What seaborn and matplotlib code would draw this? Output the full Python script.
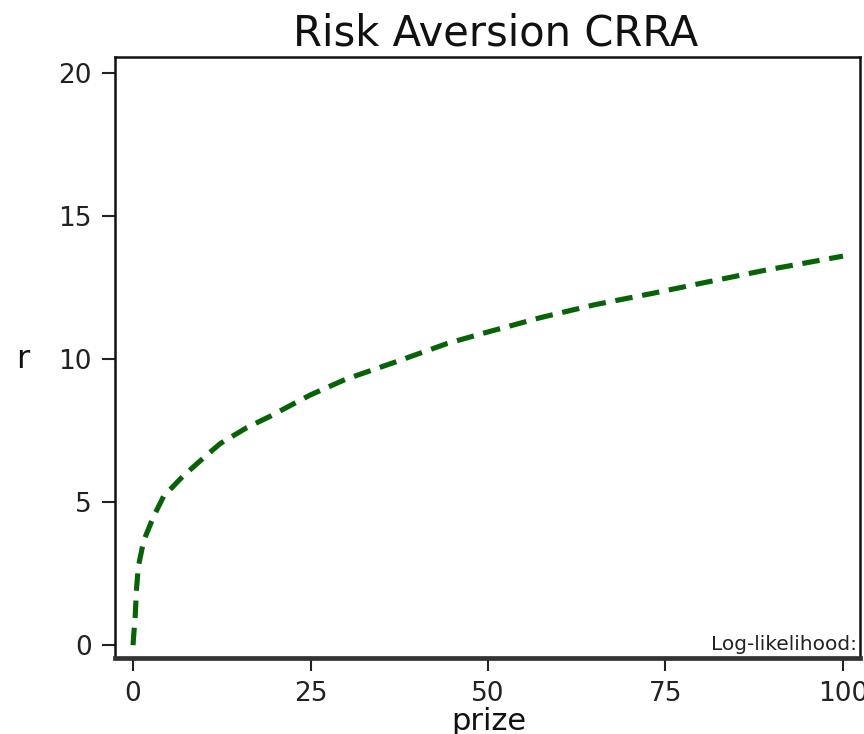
import matplotlib
matplotlib.use("Agg")
import matplotlib.pyplot as plt
import numpy as np
import pandas as pd
import seaborn as sns

# values
prize = [0, 0.05, 0.3, 0.5, 0.75, 1.5, 2.9, 4.3, 7, 10.4, 12.3, 16, 19.3, 22.7,
         25, 30, 36.4, 44.3, 50, 57.4, 65, 73.2, 80, 88.9, 100]
r_vals = [0, 0.2, 1.0, 2.0, 2.75, 3.65, 4.5, 5.2, 5.9, 6.65, 7.05, 7.6, 8.0, 8.45,
          8.75, 9.3, 9.85, 10.55, 10.95, 11.45, 11.9, 12.3, 12.65, 13.1, 13.6]
x_ticks = [0, 25, 50, 75, 100]
y_ticks = [0, 5, 10, 15, 20]

sns.set_theme(style="ticks")
plt.rcParams["font.family"] = ["DejaVu Sans"]

df = pd.DataFrame({"prize": prize, "r": r_vals})

fig = plt.figure(figsize=(8.64, 7.34), dpi=100)
ax = fig.add_axes([0.1331, 0.1035, 0.8623, 0.8188])

sns.lineplot(data=df, x="prize", y="r", ax=ax, color="#066306",
             linewidth=3.7, linestyle=(0, (3.4, 1.9)))

ax.set_xlim(-2.54, 102.4)
ax.set_ylim(-0.45, 20.56)
ax.set_xticks(x_ticks)
ax.set_yticks(y_ticks)
ax.tick_params(axis="both", length=9.5, width=1.5, labelsize=19, pad=7,
               color="#222222", labelcolor="#222222")

for side in ["left", "top", "right"]:
    ax.spines[side].set_linewidth(1.8)
    ax.spines[side].set_color("#111111")
ax.spines["bottom"].set_linewidth(3.4)
ax.spines["bottom"].set_color("#333333")

ax.set_title("Risk Aversion CRRA", fontsize=30, pad=8, x=0.511, color="#111111")

# the reference clips the bottom of "prize" at the image edge
ax.set_xlabel("prize", fontsize=22, color="#111111")
ax.xaxis.label.set_va("baseline")
ax.xaxis.set_label_coords(0.502, -0.12)

ax.set_ylabel("r", fontsize=23, rotation=0, color="#111111")
ax.yaxis.label.set_va("center")
ax.yaxis.label.set_ha("center")
ax.yaxis.set_label_coords(-0.1235, 0.496)

ax.text(0.996, 0.006, "Log-likelihood:", transform=ax.transAxes,
        ha="right", va="bottom", fontsize=14.5, color="#222222")

fig.savefig("out.png", dpi=100)
